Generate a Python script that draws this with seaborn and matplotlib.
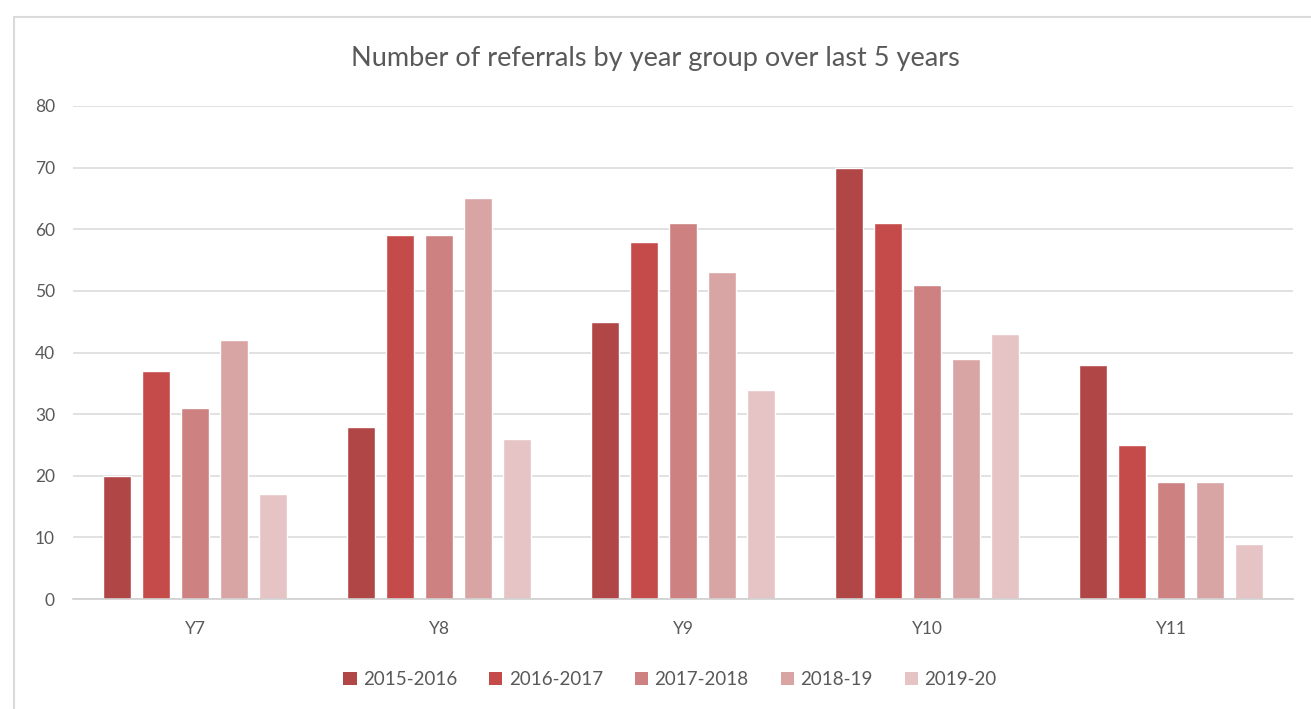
import matplotlib
matplotlib.use("Agg")
import matplotlib.pyplot as plt
from matplotlib.lines import Line2D
from matplotlib.patches import Patch
import seaborn as sns
import pandas as pd

# Referral counts per year group, one list per academic year
year_groups = ["Y7", "Y8", "Y9", "Y10", "Y11"]
periods = ["2015-2016", "2016-2017", "2017-2018", "2018-19", "2019-20"]
v_2015_2016 = [20, 28, 45, 70, 38]
v_2016_2017 = [37, 59, 58, 61, 25]
v_2017_2018 = [31, 59, 61, 51, 19]
v_2018_19 = [42, 65, 53, 39, 19]
v_2019_20 = [17, 26, 34, 43, 9]
y_ticks = [0, 10, 20, 30, 40, 50, 60, 70, 80]

colors = ["#b14646", "#c44b49", "#cd8181", "#d9a4a4", "#e6c4c6"]

series = [v_2015_2016, v_2016_2017, v_2017_2018, v_2018_19, v_2019_20]
rows = []
for period, values in zip(periods, series):
    for grp, val in zip(year_groups, values):
        rows.append({"group": grp, "period": period, "count": val})
df = pd.DataFrame(rows)

sns.set_theme(style="white")
plt.rcParams["font.family"] = ["Lato", "DejaVu Sans"]

fig = plt.figure(figsize=(13.11, 7.09), dpi=100)
fig.patch.set_facecolor("white")
ax = fig.add_axes([0.0557, 0.155, 0.9306, 0.6955])

sns.barplot(data=df, x="group", y="count", hue="period",
            order=year_groups, hue_order=periods, palette=colors,
            width=0.8, gap=0.28, saturation=1, ax=ax, legend=False)

ax.set_ylim(0, 80)
ax.set_yticks(y_ticks)
ax.set_xlim(-0.5, len(year_groups) - 0.5)
ax.yaxis.grid(True, color="#dcdcdc", linewidth=1.2)
ax.set_axisbelow(True)
for s in ["top", "right", "left"]:
    ax.spines[s].set_visible(False)
ax.spines["bottom"].set_color("#d0d0d0")
ax.spines["bottom"].set_linewidth(1.2)
ax.set_xlabel("")
ax.set_ylabel("")
ax.tick_params(axis="both", length=0, labelsize=12.5, labelcolor="#595959")
ax.tick_params(axis="y", pad=13)
ax.tick_params(axis="x", pad=16)

fig.text(0.5, 0.918, "Number of referrals by year group over last 5 years",
         ha="center", va="center", fontsize=19.5, color="#595959")

handles = [Patch(facecolor=c, edgecolor="none") for c in colors]
fig.legend(handles, periods, loc="center", bbox_to_anchor=(0.511, 0.042),
           ncol=5, frameon=False, fontsize=13.5, labelcolor="#595959",
           handlelength=0.7, handleheight=0.7, handletextpad=0.35,
           columnspacing=1.7)

# Light frame around the chart area
fig.add_artist(Line2D([14 / 1311, 14 / 1311], [0, 1 - 17 / 709],
                      transform=fig.transFigure, color="#dadada", linewidth=1.5))
fig.add_artist(Line2D([14 / 1311, 1], [1 - 17 / 709, 1 - 17 / 709],
                      transform=fig.transFigure, color="#dadada", linewidth=1.5))

fig.savefig("out.png", dpi=100, facecolor="white")
